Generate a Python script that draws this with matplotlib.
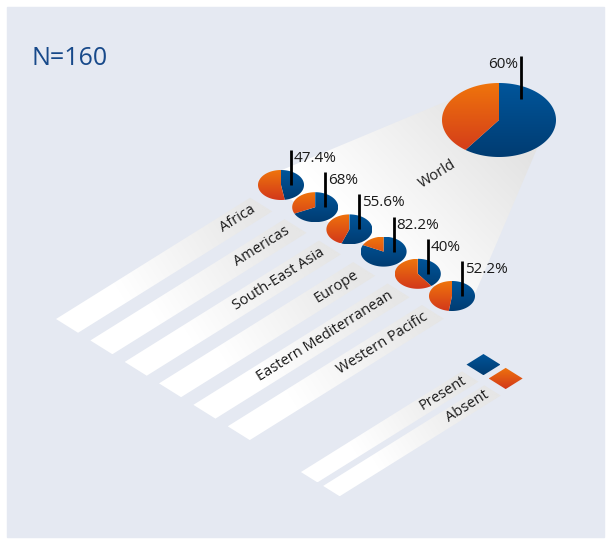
import numpy as np
import matplotlib
matplotlib.use('Agg')
from matplotlib import pyplot
from matplotlib.patches import Polygon, Rectangle
from matplotlib.colors import to_rgb

# Share of countries with the item present, by WHO region
regions = ['Africa', 'Americas', 'South-East Asia', 'Europe',
           'Eastern Mediterranean', 'Western Pacific']
present = [47.4, 68, 55.6, 82.2, 40, 52.2]
world_present = 60
n_countries = 160
legend_labels = ['Present', 'Absent']

BLUE = ('#00559a', '#003c72')
ORANGE = ('#ef740c', '#d2381b')
PANEL = '#e5e9f2'

pyplot.rcParams['font.family'] = ['Open Sans', 'DejaVu Sans']

ang = np.radians(32)
along = np.array([np.cos(ang), -np.sin(ang)])
across = np.array([np.cos(ang), np.sin(ang)])


def grad_fill(ax, verts, c0, c1, p0, p1, z):
    # linear colour ramp from p0 to p1, clipped to the polygon
    verts = np.asarray(verts, dtype=float)
    x0, y0 = verts.min(0)
    x1, y1 = verts.max(0)
    xs = np.linspace(x0, x1, int(x1 - x0) + 2)
    ys = np.linspace(y0, y1, int(y1 - y0) + 2)
    X, Y = np.meshgrid(xs, ys)
    d = np.subtract(p1, p0)
    t = ((X - p0[0]) * d[0] + (Y - p0[1]) * d[1]) / (d @ d)
    t = np.clip(t, 0, 1)[..., None]
    a = np.array(to_rgb(c0))
    b = np.array(to_rgb(c1))
    img = a + t * (b - a)
    im = ax.imshow(img, extent=(x0, x1, y1, y0), origin='upper',
                   zorder=z, interpolation='bilinear')
    patch = Polygon(verts, closed=True, facecolor='none', edgecolor='none')
    ax.add_patch(patch)
    im.set_clip_path(patch)


def strip(ax, tip, width, length, z=1):
    tip = np.asarray(tip)
    pts = [tip, tip + width * across, tip + width * across + length * along,
           tip + length * along]
    grad_fill(ax, pts, '#ffffff', '#e6e6e6', tip + 0.3 * length * along,
              tip + length * along, z)
    return tip + 0.5 * width * across + length * along


def wedge_pts(cx, cy, a, b, t0, t1):
    th = np.radians(np.linspace(t0, t1, 120))
    return [(cx, cy)] + list(zip(cx + a * np.sin(th), cy - b * np.cos(th)))


def pie(ax, cx, cy, a, b, pct, z=3):
    cut = 360 * pct / 100
    for (t0, t1), cols in [((0, cut), BLUE), ((cut, 360), ORANGE)]:
        grad_fill(ax, wedge_pts(cx, cy, a, b, t0, t1), cols[0], cols[1],
                  (cx, cy - b), (cx, cy + b), z)


fig = pyplot.figure(figsize=(6.06, 5.43), dpi=100)
ax = fig.add_axes([0, 0, 1, 1])
ax.add_patch(Rectangle((7, 7), 597, 530, color=PANEL, zorder=0))

# world fan behind the regional pies
wx, wy, wa, wb = 499, 120, 57, 37
rx, ry, ra, rb = 281, 185, 23, 15
step = np.array([34.2, 22.2])
last = np.array([rx, ry]) + step * (len(regions) - 1)
fan = [(478, 88), (545, 130), (last[0] + ra - 1, last[1]), tuple(last),
       (rx - ra, ry - 5)]
grad_fill(ax, fan, '#e3e3e3', '#ffffff', (wx, wy), (370, 240), 1)

# region strips with labels
tip0 = np.array([56.0, 319.0])
gap = 40.5
for i, name in enumerate(regions):
    end = strip(ax, tip0 + i * gap * across, 26, 229)
    p = end - 8 * along
    ax.text(p[0], p[1], name, rotation=32, rotation_mode='anchor',
            ha='right', va='center', fontsize=10.5, color='#1a1a1a', zorder=5)

# legend strips and swatches
for k, (lab, cols) in enumerate(zip(legend_labels, [BLUE, ORANGE])):
    end = strip(ax, tip0 + (288.8 + k * 26.2) * across, 19.5, 190)
    p = end - 6 * along
    ax.text(p[0], p[1], lab, rotation=32, rotation_mode='anchor',
            ha='right', va='center', fontsize=10.5, color='#1a1a1a', zorder=5)
    c = end + 19 * along - 3.5 * across
    s = 10
    dia = [c - s * (along + across), c + s * (along - across),
           c + s * (along + across), c - s * (along - across)]
    grad_fill(ax, dia, cols[0], cols[1], (c[0], c[1] - 11), (c[0], c[1] + 11), 3)

# regional pies with value markers
for i, v in enumerate(present):
    cx, cy = np.array([rx, ry]) + step * i
    pie(ax, cx, cy, ra, rb, v)
    lx = cx + 10
    ax.plot([lx, lx], [cy - 35, cy], color='black', lw=2, zorder=4,
            solid_capstyle='butt')
    ax.text(lx + 3, cy - 35 + 12, f'{v:g}%', fontsize=11, color='#1a1a1a',
            va='baseline', ha='left', zorder=5)

# world pie
pie(ax, wx, wy, wa, wb, world_present)
ax.plot([wx + 22, wx + 22], [wy - 64, wy - 21], color='black', lw=2,
        zorder=4, solid_capstyle='butt')
ax.text(wx + 19, wy - 64 + 12, f'{world_present:g}%', fontsize=11,
        color='#1a1a1a', va='baseline', ha='right', zorder=5)
ax.text(437, 174, 'World', rotation=32, rotation_mode='anchor', ha='center',
        va='center', fontsize=10.5, color='#1a1a1a', zorder=5)

ax.text(31, 65, f'N={n_countries}', fontsize=18, color='#17498a',
        va='baseline', ha='left', zorder=5)

ax.set_xlim(0, 606)
ax.set_ylim(543, 0)
ax.set_aspect('auto')
ax.axis('off')

pyplot.savefig('out.png', dpi=100, facecolor='white')
